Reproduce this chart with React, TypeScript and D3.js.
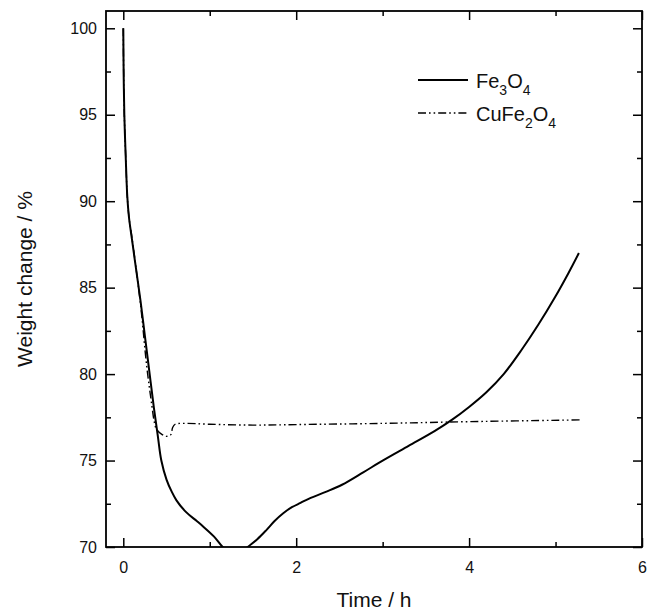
import React, { useEffect, useRef } from 'react';
import * as d3 from 'd3';

// Fe3O4 run: time (h) and weight change (%)
const feTime = [0, 0.004, 0.012, 0.03, 0.046, 0.065, 0.1, 0.15, 0.2, 0.25, 0.3, 0.35, 0.4, 0.44, 0.5, 0.56, 0.615, 0.73, 0.85, 0.92, 1.05, 1.15, 1.25, 1.35, 1.44, 1.55, 1.65, 1.75, 1.85, 1.95, 2.05, 2.15, 2.35, 2.53, 2.77, 3.0, 3.3, 3.6, 3.8, 4.0, 4.2, 4.4, 4.6, 4.8, 5.0, 5.15, 5.27];
const feWeight = [100, 97.5, 95, 92.3, 90.3, 89.1, 87.8, 86.0, 84.2, 82.2, 80.2, 78.2, 76.4, 75, 73.9, 73.2, 72.7, 72.0, 71.5, 71.2, 70.6, 70, 69.6, 69.6, 70, 70.45, 70.95, 71.5, 71.95, 72.3, 72.55, 72.8, 73.2, 73.6, 74.3, 75.0, 75.85, 76.7, 77.35, 78.1, 78.95, 80.0, 81.35, 82.85, 84.5, 85.85, 87.0];

// CuFe2O4 run
const cuTime = [0, 0.004, 0.012, 0.03, 0.046, 0.065, 0.1, 0.2, 0.27, 0.33, 0.36, 0.385, 0.45, 0.5, 0.55, 0.57, 0.6, 0.7, 1.0, 1.5, 2.0, 3.0, 4.0, 5.28];
const cuWeight = [100, 97.5, 95, 92.3, 90.3, 89.1, 87.9, 84.0, 80.5, 78.2, 77.2, 76.8, 76.5, 76.4, 76.5, 76.9, 77.1, 77.15, 77.1, 77.05, 77.08, 77.15, 77.25, 77.35];

const xMajor = [0, 2, 4, 6];
const xMinor = [1, 3, 5];
const yMajor = [70, 75, 80, 85, 90, 95, 100];
const yMinor = [72.5, 77.5, 82.5, 87.5, 92.5, 97.5];

const FONT = 'Liberation Sans, Arial, Helvetica, sans-serif';

export default function App() {
  const ref = useRef<SVGSVGElement>(null);

  useEffect(() => {
    const margin = { top: 11, right: 5, bottom: 63, left: 106 };
    const totalW = 647;
    const totalH = 610;
    const width = totalW - margin.left - margin.right;
    const height = totalH - margin.top - margin.bottom;

    const svg = d3.select(ref.current);
    svg.selectAll('*').remove();
    svg.attr('width', totalW).attr('height', totalH);

    const g = svg.append('g').attr('transform', `translate(${margin.left},${margin.top})`);

    const x = d3.scaleLinear().domain([-0.2, 6]).range([0, width]);
    const y = d3.scaleLinear().domain([70, 101]).range([height, 0]);

    g.append('defs').append('clipPath')
      .attr('id', 'plot-clip')
      .append('rect')
      .attr('width', width)
      .attr('height', height);

    const styleAxis = (sel: any) => {
      sel.select('.domain').remove();
      sel.selectAll('line').attr('stroke', '#000').attr('stroke-width', 1.5);
      sel.selectAll('text').attr('font-family', FONT).attr('font-size', 16).attr('fill', '#111');
    };

    // bottom axis (labels) + minor ticks
    g.append('g')
      .attr('transform', `translate(0,${height})`)
      .call(d3.axisBottom(x).tickValues(xMajor).tickSizeInner(-9).tickSizeOuter(0).tickPadding(15).tickFormat(d3.format('d')))
      .call(styleAxis);
    g.append('g')
      .attr('transform', `translate(0,${height})`)
      .call(d3.axisBottom(x).tickValues(xMinor).tickSizeInner(-5).tickSizeOuter(0).tickFormat(() => ''))
      .call(styleAxis);
    // top mirror
    g.append('g')
      .call(d3.axisTop(x).tickValues(xMajor).tickSizeInner(-9).tickSizeOuter(0).tickFormat(() => ''))
      .call(styleAxis);
    g.append('g')
      .call(d3.axisTop(x).tickValues(xMinor).tickSizeInner(-5).tickSizeOuter(0).tickFormat(() => ''))
      .call(styleAxis);

    // left axis
    g.append('g')
      .call(d3.axisLeft(y).tickValues(yMajor).tickSizeInner(-9).tickSizeOuter(0).tickPadding(9).tickFormat(d3.format('d')))
      .call(styleAxis);
    g.append('g')
      .call(d3.axisLeft(y).tickValues(yMinor).tickSizeInner(-5).tickSizeOuter(0).tickFormat(() => ''))
      .call(styleAxis);
    // right mirror
    g.append('g')
      .attr('transform', `translate(${width},0)`)
      .call(d3.axisRight(y).tickValues(yMajor).tickSizeInner(-9).tickSizeOuter(0).tickFormat(() => ''))
      .call(styleAxis);
    g.append('g')
      .attr('transform', `translate(${width},0)`)
      .call(d3.axisRight(y).tickValues(yMinor).tickSizeInner(-5).tickSizeOuter(0).tickFormat(() => ''))
      .call(styleAxis);

    // frame
    g.append('rect')
      .attr('width', width)
      .attr('height', height)
      .attr('fill', 'none')
      .attr('stroke', '#000')
      .attr('stroke-width', 1.8);

    const line = d3.line<[number, number]>()
      .curve(d3.curveCatmullRom.alpha(0.5))
      .x((d) => x(d[0]))
      .y((d) => y(d[1]));

    const fe: [number, number][] = feTime.map((t, i) => [t, feWeight[i]]);
    const cu: [number, number][] = cuTime.map((t, i) => [t, cuWeight[i]]);

    const CU_DASH = '8,3,1.6,3,1.6,3';

    g.append('path')
      .attr('clip-path', 'url(#plot-clip)')
      .attr('fill', 'none')
      .attr('stroke', '#000')
      .attr('stroke-width', 1.4)
      .attr('stroke-dasharray', CU_DASH)
      .attr('d', line(cu));

    g.append('path')
      .attr('clip-path', 'url(#plot-clip)')
      .attr('fill', 'none')
      .attr('stroke', '#000')
      .attr('stroke-width', 2)
      .attr('d', line(fe));

    // legend
    const legend = svg.append('g').attr('font-family', FONT).attr('fill', '#111');
    const items = [
      { y: 80, dash: null, width: 2, parts: [['Fe', ''], ['3', 'sub'], ['O', ''], ['4', 'sub']] },
      { y: 113, dash: CU_DASH, width: 1.4, parts: [['CuFe', ''], ['2', 'sub'], ['O', ''], ['4', 'sub']] },
    ];
    items.forEach((it) => {
      legend.append('line')
        .attr('x1', 418).attr('x2', 468)
        .attr('y1', it.y).attr('y2', it.y)
        .attr('stroke', '#000')
        .attr('stroke-width', it.width)
        .attr('stroke-dasharray', it.dash);
      const text = legend.append('text')
        .attr('x', 476)
        .attr('y', it.y + 8)
        .attr('font-size', 20);
      it.parts.forEach(([s, kind], i) => {
        const span = text.append('tspan').text(s);
        if (kind === 'sub') {
          span.attr('font-size', 14).attr('dy', 7);
        } else if (i > 0) {
          span.attr('dy', -7);
        }
      });
    });

    // axis titles
    svg.append('text')
      .attr('x', margin.left + x(2.9))
      .attr('y', 607)
      .attr('text-anchor', 'middle')
      .attr('font-family', FONT)
      .attr('font-size', 21)
      .attr('fill', '#111')
      .text('Time / h');

    svg.append('text')
      .attr('transform', `translate(32,${279}) rotate(-90)`)
      .attr('text-anchor', 'middle')
      .attr('font-family', FONT)
      .attr('font-size', 21)
      .attr('fill', '#111')
      .text('Weight change / %');
  }, []);

  return (
    <div style={{ position: 'absolute', left: 0, top: 0 }}>
      <svg ref={ref} style={{ display: 'block', background: '#fff' }} />
    </div>
  );
}
